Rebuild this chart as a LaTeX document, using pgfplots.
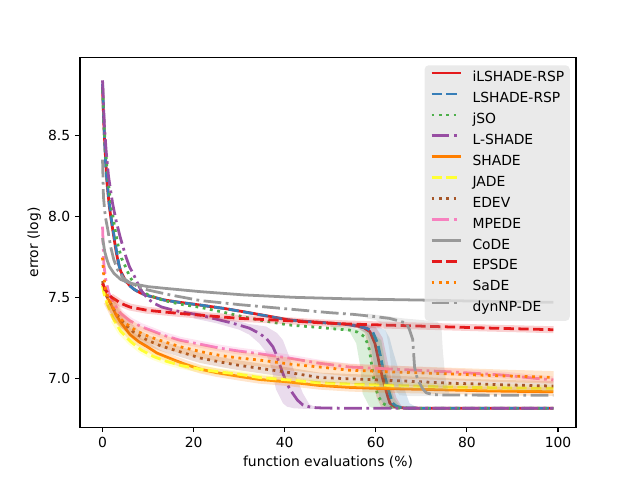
\documentclass[border=0pt]{standalone}
\usepackage{fontspec}
\setmainfont{DejaVu Sans}
\usepackage{pgfplots}
\usepackage{pgfplotstable}
\pgfplotsset{compat=1.18}
\definecolor{cred}{HTML}{E41A1C}
\definecolor{cblue}{HTML}{377EB8}
\definecolor{cgreen}{HTML}{4DAF4A}
\definecolor{cpurple}{HTML}{984EA3}
\definecolor{corange}{HTML}{FF7F00}
\definecolor{cyellow}{HTML}{FFFF33}
\definecolor{cbrown}{HTML}{A65628}
\definecolor{cpink}{HTML}{F781BF}
\definecolor{cgray}{HTML}{999999}
\definecolor{legbg}{RGB}{229,229,229}

\pgfplotstableread{
x y
0 8.80
0.3 8.56
0.6 8.39
1 8.20
1.5 8.06
2 7.96
2.5 7.87
3 7.78
3.5 7.71
4 7.66
5 7.605
6 7.572
7 7.548
8.4 7.526
10 7.51
13.5 7.484
17 7.469
21.5 7.452
27 7.43
32 7.406
36 7.386
40.7 7.362
44 7.353
47.6 7.346
52 7.337
54.2 7.331
56 7.323
57.5 7.31
58.7 7.288
59.8 7.216
60.4 7.14
60.9 7.07
61.5 7.0
62 6.95
62.6 6.89
63.1 6.846
64 6.826
65 6.819
67 6.816
80 6.815
99 6.815
}\tILS

\pgfplotstableread{
x y
0 8.82
0.3 8.57
0.74 8.29
1.47 8.08
2 7.97
2.57 7.874
3.1 7.78
3.67 7.69
4.3 7.635
5 7.60
6 7.57
7 7.548
8.4 7.525
10 7.51
13.5 7.483
17 7.468
21.5 7.452
27 7.43
32 7.405
36 7.385
40.7 7.36
44 7.352
47.6 7.345
52 7.336
54.2 7.33
56 7.322
58 7.31
59.3 7.288
60.4 7.216
61 7.14
61.5 7.07
62.1 7.0
62.6 6.95
63.2 6.89
63.7 6.846
64.5 6.828
65.5 6.82
67 6.816
80 6.815
99 6.815
}\tLS

\pgfplotstableread{
x y
0 8.78
0.3 8.58
0.6 8.43
1 8.29
1.5 8.15
2 8.05
2.5 7.96
3 7.88
3.5 7.81
4.2 7.74
5.1 7.685
6 7.625
7 7.585
8.4 7.545
10 7.515
13.5 7.48
17 7.458
21.5 7.438
27 7.405
32 7.373
36 7.352
40.7 7.33
44 7.322
47.6 7.314
51 7.305
54.2 7.298
56 7.285
57.5 7.257
58.1 7.22
58.6 7.175
59.1 7.08
59.7 6.97
60.5 6.89
61.5 6.846
63 6.822
65 6.816
80 6.815
99 6.815
}\tJSO

\pgfplotstableread{
x y
0 8.84
0.4 8.56
0.8 8.40
1.3 8.25
2.2 8.08
3 7.97
3.8 7.88
4.4 7.82
5.2 7.745
5.9 7.69
7 7.63
8.4 7.545
10 7.49
11.3 7.463
13 7.44
15 7.425
17.1 7.411
21.5 7.39
25 7.365
28.6 7.34
32.2 7.31
34.4 7.278
36 7.245
37.4 7.195
38.1 7.15
38.8 7.093
39.6 7.03
40.3 6.98
41 6.94
41.8 6.905
42.8 6.865
44 6.835
45.4 6.824
47 6.818
50 6.816
60 6.815
80 6.815
99 6.815
}\tLSH

\pgfplotstableread{
x y
0 7.586
0.5 7.535
1 7.50
1.8 7.46
3 7.39
4 7.345
4.7 7.32
6 7.27
8 7.225
9.8 7.195
12 7.155
15.7 7.113
18 7.088
21.5 7.056
25 7.035
30 7.012
34.4 6.993
40.7 6.978
47.6 6.956
54.2 6.944
60 6.938
70 6.932
76.2 6.928
85 6.922
92 6.919
99 6.917
}\tSH

\pgfplotstableread{
x y
0 7.57
0.3 7.525
1 7.46
2.5 7.36
4 7.29
6.2 7.226
8.5 7.175
11.3 7.133
14 7.105
17.1 7.08
21.5 7.056
25 7.042
30 7.025
34.4 7.005
40.7 6.99
47.6 6.972
54.2 6.965
65 6.955
76.2 6.946
88 6.941
99 6.938
}\tJA

\pgfplotstableread{
x y
0 7.60
0.5 7.545
1 7.505
1.8 7.463
3 7.40
4.7 7.34
7 7.28
9.8 7.236
12.8 7.20
15.7 7.175
21.5 7.125
26 7.10
30 7.08
34.4 7.062
40 7.04
47.6 7.005
54.2 6.997
65 6.985
76.2 6.97
88 6.96
99 6.952
}\tED

\pgfplotstableread{
x y
0 7.936
0.3 7.70
0.7 7.61
1.4 7.525
2.5 7.46
4 7.40
6 7.355
8.4 7.32
13.5 7.265
17 7.235
21.5 7.21
26 7.185
30 7.168
34.4 7.152
41.4 7.123
47.6 7.093
54.2 7.07
65 7.055
76.2 7.04
88 7.02
95 7.0
99 6.99
}\tMP

\pgfplotstableread{
x y
0 7.866
0.5 7.78
1 7.73
1.5 7.69
2.5 7.648
4 7.61
6.2 7.586
10 7.566
13.5 7.556
21.5 7.535
31 7.515
42 7.50
55 7.49
70 7.483
85 7.475
99 7.469
}\tCO

\pgfplotstableread{
x y
0 7.586
0.8 7.54
1.8 7.504
4 7.463
6 7.44
9.8 7.42
17 7.40
21.5 7.39
30 7.37
40 7.357
47.6 7.343
54.2 7.335
69 7.323
85 7.31
99 7.30
}\tEP

\pgfplotstableread{
x y
0 7.745
0.3 7.62
0.7 7.54
1.5 7.48
3.2 7.385
5 7.34
7.6 7.29
10 7.26
13.5 7.226
17 7.195
21.5 7.165
26 7.14
30 7.125
34.4 7.113
42 7.085
47.6 7.07
54.2 7.05
65 7.038
76.2 7.027
88 7.015
99 7.006
}\tSA

\pgfplotstableread{
x y
0 8.35
0.2 8.12
0.6 8.0
1.1 7.926
1.8 7.81
2.5 7.73
3.3 7.67
4.5 7.62
6 7.59
7.5 7.57
10 7.545
15 7.514
21.5 7.48
30 7.455
36 7.44
42 7.425
50 7.405
55 7.395
60.1 7.38
63 7.37
65 7.355
66.7 7.34
67.4 7.30
68.1 7.24
68.5 7.07
69 7.01
69.6 6.97
70.3 6.935
71.1 6.91
72.5 6.90
75 6.897
85 6.896
99 6.895
}\tDY

\begin{document}
\begin{tikzpicture}
\path[use as bounding box] (-57.6bp,-38.0bp) rectangle (403.2bp,307.6bp);
\begin{axis}[
  scale only axis,
  width=357.12bp, height=266.11bp,
  xmin=-4.95, xmax=103.95,
  ymin=6.698, ymax=8.98,
  xtick={0,20,40,60,80,100},
  ytick={7.0,7.5,8.0,8.5},
  tick pos=left,
  tick align=outside,
  major tick length=3.5bp,
  every tick/.style={black, line width=0.8bp},
  axis line style={line width=0.8bp},
  /pgf/number format/assume math mode=true,
  yticklabel style={/pgf/number format/fixed, /pgf/number format/fixed zerofill, /pgf/number format/precision=1},
  ticklabel style={font=\fontsize{10bp}{12bp}\selectfont},
  every axis x label/.style={at={(axis description cs:0.5,-0.1063)}, anchor=base, font=\fontsize{10bp}{12bp}\selectfont},
  every axis y label/.style={at={(axis description cs:-0.0846,0.5)}, rotate=90, anchor=base, font=\fontsize{10bp}{12bp}\selectfont},
  xlabel={function evaluations (\%)},
  ylabel={error (log)},
  legend cell align=left,
  legend image code/.code={\draw[#1, line width=2bp, line cap=butt] (0bp,3.6bp) -- (21bp,3.6bp);},
  legend style={at={(1,1)}, anchor=north east, xshift=-4.3bp, yshift=-5.3bp,
    fill=legbg, fill opacity=0.8, text opacity=1, draw=none, rounded corners=3bp,
    inner xsep=4.0bp, inner ysep=4.6bp, row sep=5.75bp, column sep=7.5bp,
    font=\fontsize{10bp}{12bp}\selectfont,
    nodes={inner sep=0bp, text height=7.3bp, text depth=2bp}},
  every axis plot/.append style={line width=2bp, line cap=butt, line join=round},
]
\pgfplotsset{
  solidl/.style={solid},
  dashedl/.style={dash pattern=on 7.4bp off 3.2bp},
  dottedl/.style={dash pattern=on 2bp off 3.3bp},
  dashdotl/.style={dash pattern=on 12.8bp off 3.2bp on 2bp off 3.2bp},
  halo/.style={forget plot, opacity=0.2, solid, restrict x to domain=1.5:100},
  band/.style={forget plot, draw=none, fill opacity=0.2},
}
% iLSHADE-RSP
\addplot[cred, solidl] table {\tILS};
\addlegendentry{iLSHADE-RSP}
\addplot[band, fill=cred] coordinates {
(55,7.34) (58,7.33) (60,7.315) (61.5,7.25) (62.6,7.10) (63.6,6.97) (64.5,6.88) (65.6,6.83) (67,6.818)
(67,6.812) (62.5,6.812) (61.2,6.82) (60.1,6.89) (59.2,7.07) (58.5,7.18) (57.6,7.28) (56,7.31) (55,7.315)};
% LSHADE-RSP
\addplot[cblue, dashedl] table {\tLS};
\addlegendentry{LSHADE-RSP}
\addplot[band, fill=cblue] coordinates {
(55,7.345) (58,7.335) (60,7.325) (62,7.30) (63,7.25) (63.7,7.175) (64.8,7.07) (65.9,6.97) (66.7,6.90) (67.4,6.846) (68.9,6.822) (70,6.818)
(70,6.812) (64,6.812) (62.2,6.82) (60.8,6.88) (59.7,7.07) (58.9,7.20) (58,7.28) (56,7.31) (55,7.315)};
% jSO
\addplot[cgreen, dottedl] table {\tJSO};
\addlegendentry{jSO}
\addplot[band, fill=cgreen] coordinates {
(50,7.33) (54.2,7.315) (57,7.30) (59.5,7.28) (60.5,7.25) (61.2,7.236) (62,7.10) (63,6.97) (64,6.88) (65.2,6.83) (66.5,6.818)
(66.5,6.812) (61.5,6.812) (59.5,6.815) (58.6,6.825) (57.1,6.907) (56.6,7.07) (55.7,7.216) (54.2,7.29) (52,7.30) (50,7.30)};
% L-SHADE
\addplot[cpurple, dashdotl] table {\tLSH};
\addlegendentry{L-SHADE}
\addplot[band, fill=cpurple] coordinates {
(20,7.41) (25,7.385) (28.6,7.36) (32.2,7.335) (35.9,7.32) (38.3,7.28) (39.6,7.236) (41,7.133) (42.5,7.01) (44,6.907) (45.4,6.84) (46.8,6.822) (48,6.818)
(48,6.812) (44,6.812) (42,6.815) (40.5,6.825) (39.6,6.846) (38.1,6.93) (37,7.07) (35.7,7.17) (34.4,7.216) (32.2,7.27) (30,7.30) (25,7.34) (20,7.37)};
% SHADE
\addplot[corange, solidl] table {\tSH};
\addlegendentry{SHADE}
\addplot[corange, halo, line width=6bp] table {\tSH};
% JADE
\addplot[cyellow, dashedl] table {\tJA};
\addlegendentry{JADE}
\addplot[cyellow, halo, line width=5bp] table {\tJA};
% EDEV
\addplot[cbrown, dottedl] table {\tED};
\addlegendentry{EDEV}
\addplot[cbrown, halo, line width=7bp] table {\tED};
% MPEDE
\addplot[cpink, dashdotl] table {\tMP};
\addlegendentry{MPEDE}
\addplot[cpink, halo, line width=5bp] table {\tMP};
% CoDE
\addplot[cgray, solidl] table {\tCO};
\addlegendentry{CoDE}
% EPSDE
\addplot[cred, dashedl] table {\tEP};
\addlegendentry{EPSDE}
\addplot[cred, halo, line width=5bp] table {\tEP};
% SaDE
\addplot[corange, dottedl] table {\tSA};
\addlegendentry{SaDE}
\addplot[corange, halo, line width=9bp] table {\tSA};
% dynNP-DE
\addplot[cgray, dashdotl] table {\tDY};
\addlegendentry{dynNP-DE}
\addplot[band, fill=cgray] coordinates {
(58,7.40) (62,7.385) (66,7.37) (70,7.36) (73.5,7.35) (74.4,7.32) (74.7,7.175) (75.1,7.05) (75.5,6.97) (76.2,6.90) (77.5,6.895)
(77.5,6.89) (68,6.89) (65.2,6.895) (64.3,6.93) (63.7,6.97) (63,7.175) (62.3,7.28) (61.5,7.33) (60,7.36) (58,7.37)};
\end{axis}
\end{tikzpicture}
\end{document}
